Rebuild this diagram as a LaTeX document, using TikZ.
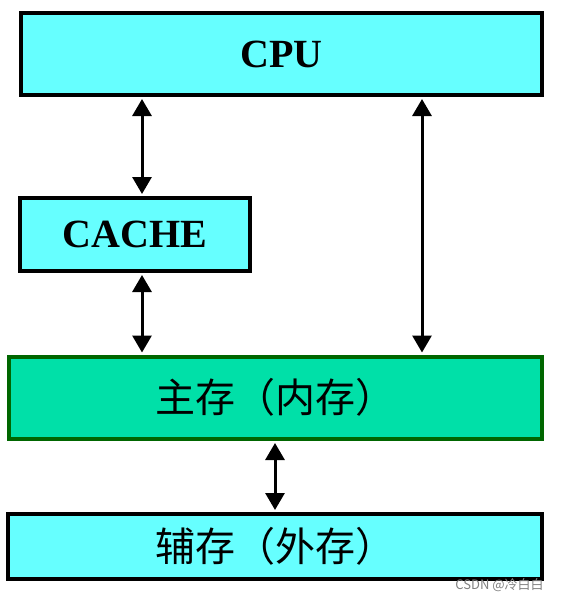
\documentclass[tikz,border=0pt]{standalone}
\usepackage{fontspec}
\setmainfont{Liberation Serif}
\newfontfamily\cjk{Noto Sans CJK SC}
\usetikzlibrary{arrows.meta, positioning}

\definecolor{boxcyan}{HTML}{66FFFF}
\definecolor{boxgreen}{HTML}{00E0A8}
\definecolor{edgegreen}{HTML}{006600}

\begin{document}
\begin{tikzpicture}[
    x = 1pt,
    y = -1pt,
    line width = 4pt,
    ]

    \tikzstyle{membox}=[
    draw = black,
    fill = boxcyan,
    inner sep = 0pt,
    ]
    \tikzstyle{latinlabel}=[
    font = \fontsize{40}{44}\selectfont\bfseries,
    ]
    \tikzstyle{cjklabel}=[
    font = \cjk\fontsize{40}{44}\selectfont,
    ]
    \tikzstyle{link}=[
    line width = 3pt,
    {Triangle[width=19pt,length=17pt]}-{Triangle[width=19pt,length=17pt]},
    shorten <= 2pt,
    shorten >= 2pt,
    ]

    \useasboundingbox (0,0) rectangle (563,603);

    \node[membox, latinlabel, minimum width=521pt, minimum height=82pt] (cpu) at (281.5,54) {CPU};
    \node[membox, latinlabel, minimum width=230pt, minimum height=73pt] (cache) at (135,234.5) {CACHE};
    \node[membox, cjklabel, fill=boxgreen, draw=edgegreen, minimum width=533pt, minimum height=82.5pt] (main) at (275,397.75) {主存（内存）};
    \node[membox, cjklabel, minimum width=534pt, minimum height=65pt] (aux) at (275,546.5) {辅存（外存）};

    \coordinate (l) at (142,0);
    \coordinate (r) at (422,0);
    \coordinate (m) at (275,0);

    \draw[link] (cpu.south -| l) -- (cache.north -| l);
    \draw[link] (cache.south -| l) -- (main.north -| l);
    \draw[link] (cpu.south -| r) -- (main.north -| r);
    \draw[link] (main.south -| m) -- (aux.north -| m);

    \node[anchor=east, text=gray, font=\cjk\fontsize{13}{14}\selectfont] (mark) at (549,585) {CSDN @冷白白};
  \end{tikzpicture}
\end{document}
